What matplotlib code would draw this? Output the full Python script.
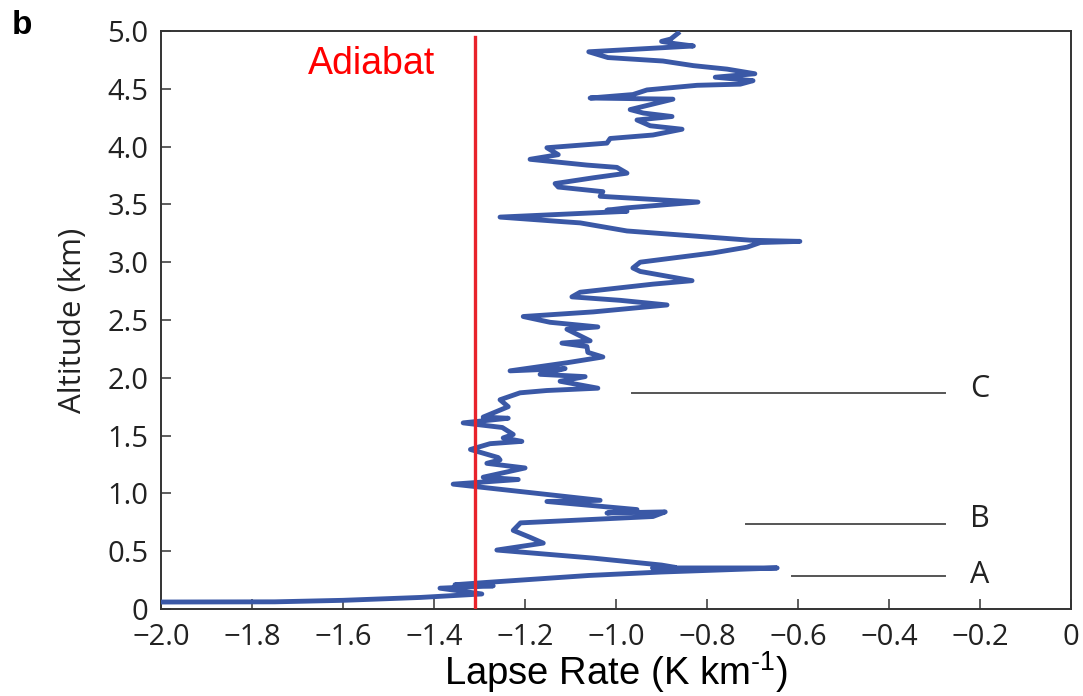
import numpy as np
import matplotlib.pyplot as plt
from matplotlib import ticker

# lapse rate profile (K/km) vs altitude (km), traced top -> bottom
lapse = [-0.864, -0.88, -0.90, -0.87, -0.83, -1.06, -1.018, -0.897, -0.83, -0.756,
         -0.695, -0.782, -0.699, -0.727, -0.822, -0.932, -0.963, -1.057, -0.875, -0.969,
         -0.94, -0.877, -0.954, -0.925, -0.855, -0.919, -1.013, -1.02, -1.152, -1.127,
         -1.189, -1.064, -0.998, -0.976, -1.05, -1.134, -1.127, -1.029, -1.035, -0.82,
         -0.976, -1.02, -0.976, -1.255, -1.116, -1.079, -0.976, -0.705, -0.596, -0.683,
         -0.712, -0.787, -0.947, -0.963, -0.947, -0.833, -0.919, -1.079, -1.097, -0.991,
         -0.888, -1.05, -1.204, -1.145, -1.04, -1.108, -1.057, -1.119, -1.064, -1.062,
         -1.029, -1.108, -1.233, -1.112, -1.167, -1.068, -1.123, -1.04, -1.152, -1.211,
         -1.255, -1.237, -1.292, -1.237, -1.336, -1.25, -1.226, -1.248, -1.207, -1.277,
         -1.32, -1.259, -1.255, -1.284, -1.2, -1.292, -1.215, -1.358, -1.196, -1.035,
         -1.152, -0.954, -1.02, -0.892, -0.919, -1.21, -1.226, -1.189, -1.16, -1.262,
         -1.05, -0.90, -0.87, -0.92, -0.646, -0.90, -1.06, -1.284, -1.354, -1.27,
         -1.387, -1.295, -1.43, -1.60, -1.75, -2.05]
alt = [4.98, 4.93, 4.91, 4.89, 4.87, 4.82, 4.77, 4.74, 4.70, 4.67,
       4.63, 4.60, 4.57, 4.54, 4.53, 4.49, 4.45, 4.42, 4.41, 4.32,
       4.29, 4.26, 4.23, 4.18, 4.15, 4.10, 4.07, 4.03, 3.99, 3.93,
       3.89, 3.84, 3.82, 3.77, 3.73, 3.68, 3.65, 3.61, 3.57, 3.52,
       3.47, 3.45, 3.44, 3.39, 3.35, 3.34, 3.27, 3.19, 3.18, 3.17,
       3.13, 3.08, 3.00, 2.95, 2.92, 2.84, 2.81, 2.74, 2.70, 2.67,
       2.63, 2.57, 2.53, 2.48, 2.44, 2.42, 2.32, 2.30, 2.27, 2.22,
       2.18, 2.13, 2.06, 2.08, 2.03, 2.01, 1.97, 1.91, 1.89, 1.87,
       1.81, 1.75, 1.66, 1.65, 1.61, 1.57, 1.51, 1.48, 1.45, 1.43,
       1.38, 1.31, 1.29, 1.26, 1.22, 1.14, 1.12, 1.08, 1.01, 0.94,
       0.93, 0.86, 0.83, 0.84, 0.80, 0.745, 0.68, 0.62, 0.57, 0.51,
       0.44, 0.38, 0.36, 0.355, 0.355, 0.32, 0.29, 0.23, 0.21, 0.20,
       0.18, 0.13, 0.10, 0.075, 0.062, 0.06]

adiabat = -1.31
adiabat_top = 4.95

# marker lines for layers A, B, C
layer_names = ['A', 'B', 'C']
layer_alt = [0.286, 0.736, 1.87]
layer_start = [-0.613, -0.714, -0.965]
layer_end = -0.277
label_x = -0.2
label_alt = [0.29, 0.78, 1.90]

xticks = np.arange(-2.0, 0.01, 0.2)
yticks = np.arange(0, 5.01, 0.5)

plt.rcParams['font.family'] = ['Open Sans', 'DejaVu Sans']
plt.rcParams['axes.unicode_minus'] = True

fig = plt.figure(figsize=(10.83, 6.96), dpi=100)
ax = fig.add_axes([0.1487, 0.125, 0.8403, 0.8305])

ax.plot(lapse, alt, color='#3a58a6', lw=3.5, solid_joinstyle='round', zorder=3)
ax.plot([adiabat, adiabat], [0, adiabat_top], color='#e8232b', lw=2.4, zorder=4)

for name, y, x0, ly in zip(layer_names, layer_alt, layer_start, label_alt):
    ax.plot([x0, layer_end], [y, y], color='#555555', lw=1.4)
    ax.text(label_x, ly, name, fontsize=22, color='#222222', ha='center', va='center')

ax.text(-1.677, 4.71, 'Adiabat', color='#ff0000', fontsize=27,
        family='Liberation Sans', ha='left', va='center')

ax.set_xlim(-2.0, 0)
ax.set_ylim(0, 5.0)
ax.set_xticks(xticks)
ax.set_yticks(yticks)


def xfmt(v, pos):
    if abs(v) < 1e-9:
        return '0'
    return '\u2212%.1f' % abs(v)


def yfmt(v, pos):
    if abs(v) < 1e-9:
        return '0'
    return '%.1f' % v


ax.xaxis.set_major_formatter(ticker.FuncFormatter(xfmt))
ax.yaxis.set_major_formatter(ticker.FuncFormatter(yfmt))
ax.tick_params(direction='in', length=7, width=1.1, labelsize=21, colors='#333333',
               labelcolor='#222222', pad=9)
ax.tick_params(axis='x', pad=10)
for s in ax.spines.values():
    s.set_linewidth(1.4)
    s.set_color('#333333')

ax.set_xlabel('Lapse Rate (K km$^{\\mathregular{\u20101}}$)', fontsize=27.5,
              family='Liberation Sans', labelpad=-2)
ax.set_ylabel('Altitude (km)', fontsize=22.5, color='#222222', labelpad=14)

fig.text(0.011, 0.963, 'b', fontsize=24, fontweight='bold', family='Liberation Sans',
         va='center', ha='left')

fig.savefig('out.png', dpi=100)
